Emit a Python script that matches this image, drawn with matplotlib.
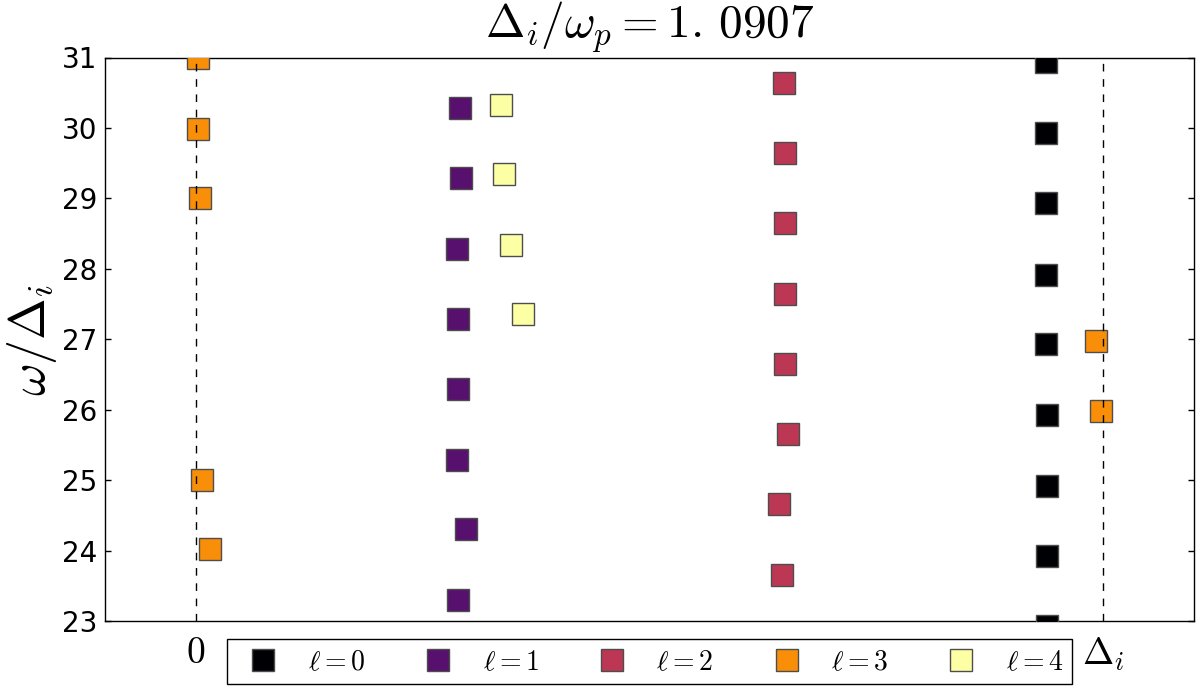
import matplotlib
matplotlib.use("Agg")
import matplotlib.pyplot as plt

plt.rcParams['mathtext.fontset'] = 'cm'
plt.rcParams['font.family'] = ['DejaVu Sans']

# ---- data ----
# x in units of Delta_i, y = omega/Delta_i
l0_x = [0.937, 0.937, 0.937, 0.937, 0.937, 0.938, 0.938, 0.938, 0.938]
l0_y = [30.93, 29.93, 28.93, 27.92, 26.93, 25.93, 24.92, 23.93, 22.93]

l1_x = [0.2914, 0.2925, 0.2881, 0.2892, 0.2892, 0.2878, 0.2977, 0.2892]
l1_y = [30.28, 29.29, 28.28, 27.29, 26.29, 25.29, 24.31, 23.30]

l2_x = [0.6484, 0.6495, 0.6495, 0.6495, 0.6495, 0.6523, 0.6421, 0.6463]
l2_y = [30.64, 29.64, 28.65, 27.65, 26.65, 25.66, 24.66, 23.66]

l3_x = [0.0025, 0.0025, 0.0042, 0.0071, 0.0154, 0.9915, 0.9970]
l3_y = [31.00, 29.99, 29.00, 25.01, 24.02, 26.98, 25.99]

l4_x = [0.3362, 0.3395, 0.3469, 0.3602]
l4_y = [30.33, 29.34, 28.34, 27.36]

series_x = [l0_x, l1_x, l2_x, l3_x, l4_x]
series_y = [l0_y, l1_y, l2_y, l3_y, l4_y]
labels = [r'$\ell=0$', r'$\ell=1$', r'$\ell=2$', r'$\ell=3$', r'$\ell=4$']
colors = ['#000004', '#57106e', '#bc3754', '#f98e09', '#fcffa4']

yticks = [23, 24, 25, 26, 27, 28, 29, 30, 31]
xticks = [0, 1]
xticklabels = [r'$0$', r'$\Delta_i$']
title = r'$\Delta_i/\omega_p=1.\,0907$'

# ---- figure ----
W, H = 1200, 687
fig = plt.figure(figsize=(W / 100, H / 100), dpi=100)
left, right, top, bottom = 105.3, 1194.0, 57.5, 621.3
ax = fig.add_axes([left / W, 1 - bottom / H, (right - left) / W, (bottom - top) / H])

for xs, ys, lab, c in zip(series_x, series_y, labels, colors):
    ax.plot(xs, ys, ls='none', marker='s', ms=15.5, mfc=c, mec='0.3',
            mew=1.0, label=lab, zorder=3)

for xv in xticks:
    ax.axvline(xv, color='k', lw=1.0, ls=(0, (5.5, 5.5)), zorder=4)

ax.set_xlim(-0.1, 1.1)
ax.set_ylim(23, 31)
ax.set_yticks(yticks)
ax.set_yticklabels([str(v) for v in yticks])
ax.set_xticks(xticks)
ax.set_xticklabels(xticklabels)

ax.tick_params(axis='y', direction='in', left=True, right=True, length=4,
               width=1, labelsize=20, pad=6)
ax.tick_params(axis='x', length=0, labelsize=27, pad=10)
for s in ax.spines.values():
    s.set_linewidth(1.0)

ax.set_ylabel(r'$\omega/\Delta_i$', fontsize=36, labelpad=2)
ax.set_title(title, fontsize=34, pad=14)

leg = ax.legend(loc='upper center', bbox_to_anchor=(0.5, -0.032), ncol=5,
                fontsize=20, frameon=True, fancybox=False, edgecolor='k',
                numpoints=1, handlelength=2.0, handletextpad=0.6,
                columnspacing=1.62, borderpad=0.3, borderaxespad=0,
                framealpha=1)
leg.get_frame().set_linewidth(1.0)

fig.savefig('out.png', dpi=100)
